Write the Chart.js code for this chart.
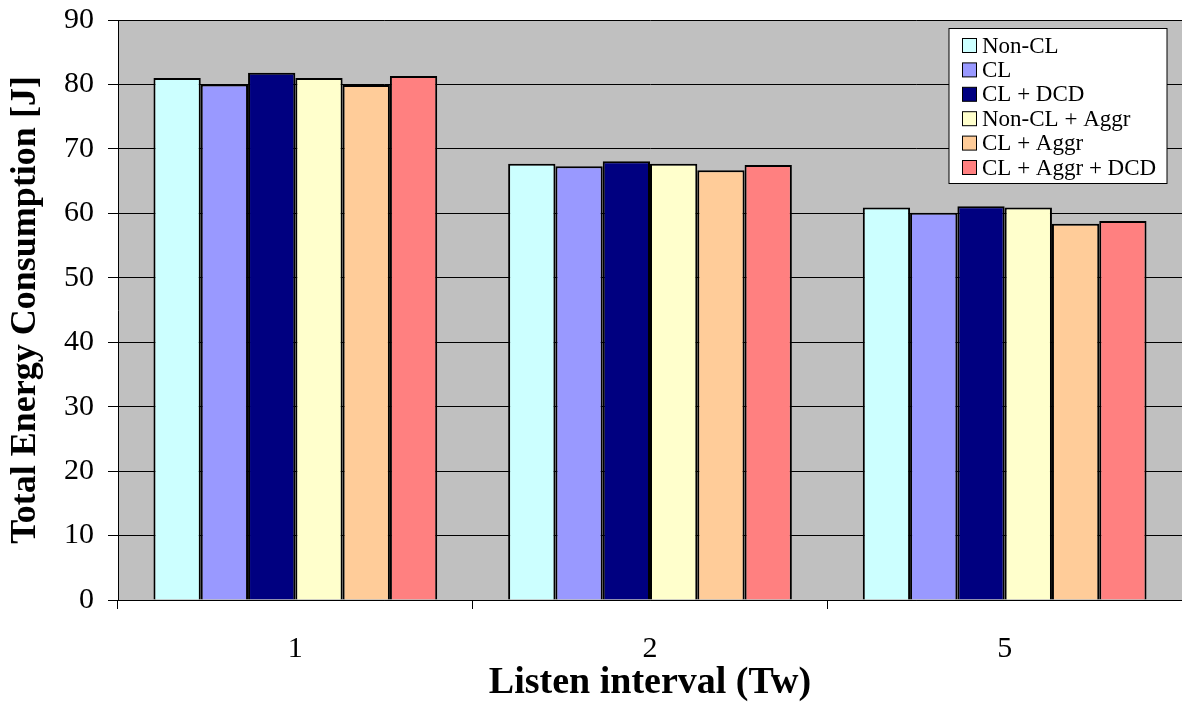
<!DOCTYPE html>
<html><head><meta charset="utf-8">
  <title>Total Energy Consumption</title>
  <script src="https://cdn.jsdelivr.net/npm/chart.js@4/dist/chart.umd.min.js"></script>
<style type="text/css">
html, body { margin: 0; padding: 0; background: #fff; }
#container { width: 1182px; height: 706px; }
</style></head>
<body><div id="container"><canvas id="canvas"></canvas></div>
<script>
// data
var categories = ['1', '2', '5'];
var seriesNames = ['Non-CL', 'CL', 'CL + DCD', 'Non-CL + Aggr', 'CL + Aggr', 'CL + Aggr + DCD'];
var nonCL        = [81.0, 67.7, 60.9];
var cl           = [80.0, 67.3, 60.1];
var clDcd        = [81.8, 68.1, 61.1];
var nonClAggr    = [81.0, 67.7, 60.9];
var clAggr       = [79.9, 66.7, 58.4];
var clAggrDcd    = [81.3, 67.5, 58.8];
var yTicks = [0, 10, 20, 30, 40, 50, 60, 70, 80, 90];

var seriesValues = [nonCL, cl, clDcd, nonClAggr, clAggr, clAggrDcd];
var palette = ['#CCFFFF', '#9999FF', '#000080', '#FFFFCC', '#FFCC99', '#FF8080'];
var serif = "'Liberation Serif', 'Times New Roman', serif";

var datasets = [];
for (var i in seriesValues) {
  datasets.push({
    label: seriesNames[i],
    data: seriesValues[i],
    backgroundColor: palette[i],
    borderColor: '#000',
    borderWidth: 2,
    categoryPercentage: 0.8,
    barPercentage: 1.0
  });
}

// grey plot area
var plotBg = {
  id: 'plotBg',
  beforeDraw: function(chart) {
    var a = chart.chartArea, ctx = chart.ctx;
    ctx.save();
    ctx.fillStyle = '#C0C0C0';
    ctx.fillRect(a.left, a.top, a.right - a.left, a.bottom - a.top);
    ctx.restore();
  }
};

// legend box drawn inside the plot, top right
var boxLegend = {
  id: 'boxLegend',
  afterDraw: function(chart) {
    var ctx = chart.ctx, a = chart.chartArea;
    var x0 = a.right - 233, y0 = 28.5, w = 218, h = 155;
    ctx.save();
    ctx.fillStyle = '#fff';
    ctx.fillRect(x0, y0, w, h);
    ctx.strokeStyle = '#000';
    ctx.lineWidth = 1;
    ctx.strokeRect(x0, y0, w, h);
    ctx.font = '23px ' + serif;
    ctx.textBaseline = 'middle';
    chart.data.datasets.forEach(function(ds, k) {
      var cy = y0 + 17 + k * 24.4;
      ctx.fillStyle = ds.backgroundColor;
      ctx.fillRect(x0 + 13.5, cy - 7, 14, 14);
      ctx.strokeRect(x0 + 13.5, cy - 7, 14, 14);
      ctx.fillStyle = '#000';
      ctx.fillText(ds.label, x0 + 33, cy + 1);
    });
    ctx.restore();
  }
};

var ctx = document.getElementById('canvas').getContext('2d');
window.energyChart = new Chart(ctx, {
  type: 'bar',
  data: { labels: categories, datasets: datasets },
  plugins: [plotBg, boxLegend],
  options: {
    responsive: true,
    maintainAspectRatio: false,
    animation: false,
    layout: { padding: { top: 20, right: 0, left: 0, bottom: 0 } },
    plugins: { legend: { display: false }, tooltip: { enabled: false } },
    scales: {
      x: {
        offset: true,
        grid: { offset: true, drawOnChartArea: false, drawTicks: true, tickLength: 9, color: '#000', lineWidth: 1 },
        border: { display: true, color: '#000', width: 1 },
        ticks: { color: '#000', font: { family: serif, size: 30 }, padding: 22, maxRotation: 0 },
        title: { display: true, text: 'Listen interval (Tw)', color: '#000',
                 font: { family: serif, size: 38, weight: 'bold' }, padding: { top: 0, bottom: 0 } },
        afterFit: function(scale) { scale.height = 106; scale.paddingLeft = 0; scale.paddingRight = 0; }
      },
      y: {
        min: 0, max: 90,
        afterBuildTicks: function(scale) { scale.ticks = yTicks.map(function(v) { return { value: v }; }); },
        grid: { color: '#000', lineWidth: 1, tickLength: 10 },
        border: { display: true, color: '#000', width: 1 },
        ticks: { color: '#000', font: { family: serif, size: 30 }, padding: 14 },
        title: { display: true, text: 'Total Energy Consumption [J]', color: '#000',
                 font: { family: serif, size: 36, weight: 'bold' }, padding: { top: 4, bottom: 0 } },
        afterFit: function(scale) { scale.width = 118; scale.paddingTop = 0; scale.paddingBottom = 0; }
      }
    }
  }
});
</script>
</body></html>
